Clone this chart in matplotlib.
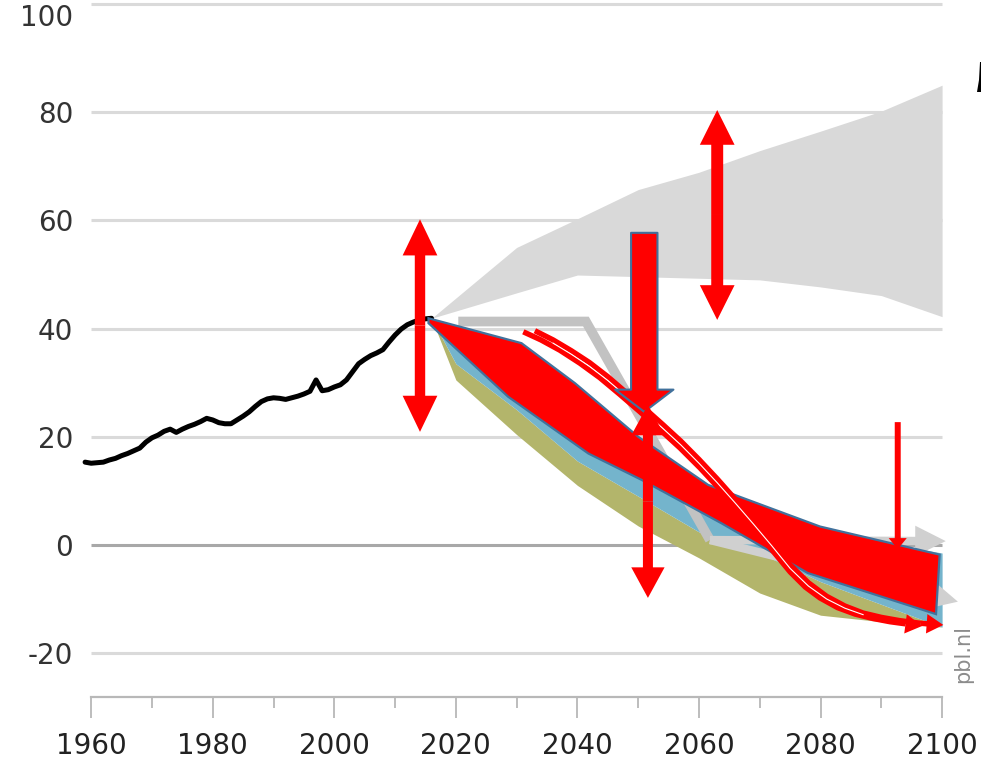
import matplotlib
matplotlib.use('Agg')
import matplotlib.pyplot as plt
from matplotlib.patches import Polygon

# historical emissions (black line)
hist_years = list(range(1959, 2017))
hist_values = [15.3, 15.1, 15.2, 15.3, 15.7, 16.0, 16.5, 16.9, 17.4, 17.9,
               19.0, 19.8, 20.3, 21.0, 21.4, 20.8, 21.4, 21.9, 22.3, 22.8,
               23.4, 23.1, 22.6, 22.4, 22.4, 23.1, 23.8, 24.6, 25.6, 26.5,
               27.0, 27.2, 27.1, 26.9, 27.2, 27.5, 27.9, 28.4, 30.5, 28.5,
               28.7, 29.2, 29.6, 30.5, 32.0, 33.5, 34.3, 35.0, 35.5, 36.1,
               37.5, 38.8, 39.9, 40.7, 41.2, 41.6, 41.8, 41.9]

# baseline range (grey fan)
fan_years = [2016, 2030, 2040, 2050, 2060, 2070, 2080, 2090, 2100]
fan_high = [41.9, 55.0, 60.3, 65.7, 68.9, 72.9, 76.5, 80.2, 85.0]
fan_low = [41.9, 46.6, 49.9, 49.6, 49.3, 49.0, 47.7, 46.1, 42.2]

# grey pledge path and its two end arrows
pledge_years = [2020.4, 2041.4, 2061.8]
pledge_values = [41.3, 41.3, 0.9]
pledge_end_years = [2100.6, 2102.6]
pledge_end_values = [0.7, -10.5]

# pathway ranges
band_years = [2016, 2020, 2030, 2040, 2050, 2060, 2070, 2080, 2090, 2100]
olive_low = [41.9, 30.5, 20.4, 11.0, 3.5, -2.4, -8.9, -13.0, -14.2, -15.2]
blue_low = [41.9, 33.5, 25.0, 15.5, 9.0, 2.4, -1.5, -6.8, -11.0, -15.2]
blue_high = [41.9, 39.0, 33.0, 25.0, 18.0, 11.0, 6.0, 3.0, 0.5, -1.5]

# red band drawn over the chart
red_top_years = [2015.5, 2030.8, 2039.6, 2050.0, 2061.5, 2066.7, 2079.9, 2099.6]
red_top_values = [41.9, 37.3, 29.9, 20.0, 11.1, 8.9, 3.4, -1.8]
red_bottom_years = [2099.0, 2077.9, 2063.7, 2050.6, 2041.8, 2028.6, 2015.5]
red_bottom_values = [-12.8, -5.2, 4.0, 12.0, 16.9, 27.4, 41.0]

# red curved double arrows (two strokes with a thin white gap)
curve_a_years = [2031.1, 2034.0, 2037.1, 2040.4, 2043.7, 2047.0, 2050.3, 2053.6,
                 2056.9, 2060.2, 2063.5, 2066.8, 2070.0, 2072.5, 2075.0, 2077.5,
                 2079.9, 2082.8, 2085.7, 2088.6, 2091.4, 2094.0, 2096.7]
curve_a_values = [39.4, 37.9, 36.0, 33.6, 30.9, 27.8, 24.6, 21.3,
                  17.9, 14.2, 10.2, 6.0, 1.8, -1.6, -5.0, -7.8,
                  -9.8, -11.6, -12.8, -13.6, -14.2, -14.6, -15.0]
curve_b_years = [2033.0, 2036.0, 2039.0, 2042.0, 2045.0, 2048.0, 2051.0, 2054.0,
                 2057.0, 2060.0, 2063.0, 2066.0, 2069.0, 2072.0, 2075.0, 2078.0,
                 2081.0, 2084.0, 2087.0, 2090.0, 2093.0, 2096.5, 2100.2]
curve_b_values = [39.6, 37.9, 35.9, 33.7, 31.1, 28.2, 25.3, 22.3,
                  19.2, 15.8, 12.2, 8.4, 4.5, 0.5, -3.7, -7.0,
                  -9.5, -11.3, -12.6, -13.4, -14.0, -14.5, -14.8]
gap_years = [2036.0, 2039.0, 2042.0, 2045.0, 2048.0, 2051.0, 2054.0, 2057.0,
             2060.0, 2063.0, 2066.0, 2069.0, 2072.0, 2075.0, 2078.0, 2081.0,
             2084.0, 2087.0]
gap_values = [37.3, 35.25, 33.0, 30.4, 27.5, 24.6, 21.6, 18.5,
              15.1, 11.5, 7.7, 3.8, -0.2, -4.35, -7.6, -10.0,
              -11.7, -12.9]

# red double-headed arrows
arrow_years = [2014.1, 2063.0, 2051.6]
arrow_tops = [60.2, 80.4, 25.9]
arrow_bottoms = [20.9, 41.6, -9.8]

# big block arrow and thin single arrow
block_year, block_from, block_to = 2051.0, 57.7, 24.6
thin_year, thin_from, thin_to = 2092.7, 22.7, -0.8

x_ticks = [1960, 1980, 2000, 2020, 2040, 2060, 2080, 2100]
x_minor = [1970, 1990, 2010, 2030, 2050, 2070, 2090]
y_ticks = [-20, 0, 20, 40, 60, 80, 100]

# cropped black mark at the top right edge, figure pixels
corner_mark_px = [(980, 62), (981, 62), (981, 92), (977, 92), (979, 80)]

RED = '#ff0000'
OUTLINE = '#41719c'
W, H = 981, 778


def arrow(ax, x, y_from, y_to, tail, head_w, head_l, z, fc=RED, ec='none', lw=0):
    ax.annotate('', xy=(x, y_to), xytext=(x, y_from),
                arrowprops=dict(arrowstyle='simple,head_length=%s,head_width=%s,tail_width=%s'
                                % (head_l, head_w, tail),
                                mutation_scale=1, fc=fc, ec=ec, lw=lw,
                                shrinkA=0, shrinkB=0),
                zorder=z)


def head(ax, x0, y0, x1, y1, tail, head_w, head_l, z, color):
    ax.annotate('', xy=(x1, y1), xytext=(x0, y0),
                arrowprops=dict(arrowstyle='simple,head_length=%s,head_width=%s,tail_width=%s'
                                % (head_l, head_w, tail),
                                mutation_scale=1, fc=color, ec='none', lw=0,
                                shrinkA=0, shrinkB=0),
                zorder=z)


fig = plt.figure(figsize=(W / 100, H / 100), dpi=100)
ax = fig.add_axes([0, 0, 1, 1])
ax.set_xlim(1945.0, 2106.4)
ax.set_ylim(-43.1, 100.75)

for s in ['top', 'right', 'left']:
    ax.spines[s].set_visible(False)
ax.spines['left'].set_position(('data', 1960))
ax.spines['bottom'].set_position(('data', -28.1))
ax.spines['bottom'].set_bounds(1960, 2100)
ax.spines['bottom'].set_color('#b8b8b8')
ax.spines['bottom'].set_linewidth(1.6)

ax.set_xticks(x_ticks)
ax.set_xticklabels([str(y) for y in x_ticks])
ax.set_xticks(x_minor, minor=True)
ax.tick_params(axis='x', which='major', length=15, width=1.3, color='#b8b8b8',
               pad=10, labelsize=20, labelcolor='#222222')
ax.tick_params(axis='x', which='minor', length=8, width=1.3, color='#b8b8b8')
ax.set_yticks(y_ticks)
ax.set_yticklabels([str(v) for v in y_ticks])
ax.tick_params(axis='y', length=0, pad=13, labelsize=20, labelcolor='#333333')
# keep the top label inside the picture
ax.get_yticklabels()[-1].set_va('top')

grid_colors = ['#a8a8a8' if v == 0 else '#dadada' for v in y_ticks]
ax.hlines(y_ticks, x_ticks[0], x_ticks[-1], colors=grid_colors, lw=2.2, zorder=1)

# baseline fan
ax.fill_between(fan_years, fan_low, fan_high, color='#d9d9d9', lw=0, zorder=2)

# pathway bands
ax.fill_between(band_years, olive_low, blue_low, color='#b3b56b', lw=0, zorder=3)
ax.fill_between(band_years, blue_low, blue_high, color='#74b4cc', lw=0, zorder=3.2)

# grey pledge path
ax.plot(pledge_years, pledge_values, color='#c2c2c2', lw=7, solid_joinstyle='miter',
        solid_capstyle='butt', zorder=4)
for ex, ey in zip(pledge_end_years, pledge_end_values):
    head(ax, pledge_years[-1], pledge_values[-1], ex, ey, 6, 22, 22, 4, '#d0d0d0')

# historical line
ax.plot(hist_years, hist_values, color='black', lw=3.6, solid_joinstyle='round',
        solid_capstyle='round', zorder=5)

# red band with blue outline
band_xy = list(zip(red_top_years, red_top_values)) + list(zip(red_bottom_years, red_bottom_values))
ax.add_patch(Polygon(band_xy, closed=True, fc=RED, ec=OUTLINE, lw=1.6, zorder=6))

# curved arrows
for cx, cy in [(curve_a_years, curve_a_values), (curve_b_years, curve_b_values)]:
    ax.plot(cx[:-1], cy[:-1], color=RED, lw=3.9, solid_capstyle='butt', zorder=7)
    head(ax, cx[-2], cy[-2], cx[-1], cy[-1], 3.9, 14, 12, 7, RED)
ax.plot(gap_years, gap_values, color='white', lw=0.8, zorder=7.1)

# block arrow with outline
arrow(ax, block_year, block_from, block_to, 19, 42, 16, 8, ec=OUTLINE, lw=1.5)

# double-headed arrows
sizes = [(7.5, 25, 26), (8.6, 25, 25), (7.2, 24, 22)]
for (x, top, bot), (tail, hw, hl) in zip(zip(arrow_years, arrow_tops, arrow_bottoms), sizes):
    mid = (top + bot) / 2
    arrow(ax, x, mid, top, tail, hw, hl, 9)
    arrow(ax, x, mid, bot, tail, hw, hl, 9)

arrow(ax, thin_year, thin_from, thin_to, 4.3, 13, 8, 9)

# small cropped details at the right edge
fig.text(0.982, 0.16, 'pbl.nl', rotation=90, color='#8c8c8c', fontsize=15,
         ha='center', va='center')
fig.patches.append(Polygon([(px / W, 1 - py / H) for px, py in corner_mark_px],
                           closed=True, fc='black', ec='none',
                           transform=fig.transFigure, figure=fig))

fig.savefig('out.png', dpi=100)
